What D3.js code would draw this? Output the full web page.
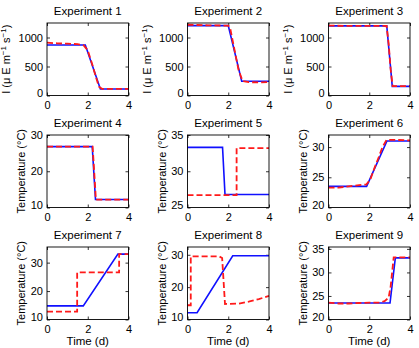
<!DOCTYPE html>
<html><head><meta charset="utf-8">
<script src="https://cdn.jsdelivr.net/npm/d3@7"></script>
<style>
html,body{margin:0;padding:0;background:#fff;}
svg{display:block;font-family:"Liberation Sans",Arial,Helvetica,sans-serif;}
</style></head>
<body>
<svg id="chart" width="419" height="348"></svg>
<script>
// ---- data ----
const titles = ["Experiment 1","Experiment 2","Experiment 3","Experiment 4","Experiment 5","Experiment 6","Experiment 7","Experiment 8","Experiment 9"];
const xTicks = [0, 2, 4];
const yDomains = [[0,1250],[0,1250],[0,1250],[10,30],[25,35],[20,32],[10,35.5],[10,32.4],[20,35.4]];
const yTicks = [[0,500,1000],[0,500,1000],[0,500,1000],[10,20,30],[25,30,35],[20,25,30],[10,20,30],[10,20,30],[20,25,30,35]];
const yLabelLight = "I (μ E m";
const yLabelTemp = "Temperature (°C)";
const xLabel = "Time (d)";

// blue = model (solid), red = data (dashed); [time, value]
const exp1Blue = [[0,870],[1.88,870],[2.62,112],[4,112]];
const exp1Red  = [[0,910],[0.5,900],[1,893],[1.5,885],[1.8,865],[2.0,780],[2.2,560],[2.4,320],[2.55,150],[2.7,115],[4,115]];
const exp2Blue = [[0,1205],[2.0,1205],[2.66,245],[4,245]];
const exp2Red  = [[0,1220],[1,1210],[2.0,1205],[2.1,1150],[2.3,800],[2.5,450],[2.7,250],[3,230],[3.5,225],[4,232]];
const exp3Blue = [[0,1200],[2.86,1200],[3.13,158],[4,158]];
const exp3Red  = [[0,1205],[1,1200],[2.85,1200],[2.95,900],[3.05,450],[3.15,160],[4,160]];
const exp4Blue = [[0,26.8],[2.22,26.8],[2.38,12.2],[4,12.2]];
const exp4Red  = [[0,26.8],[2.24,26.8],[2.4,12.2],[4,12.2]];
const exp5Blue = [[0,33.3],[1.72,33.3],[1.84,26.8],[4,26.8]];
const exp5Red  = [[0,26.7],[2.41,26.7],[2.41,33.2],[4,33.2]];
const exp6Blue = [[0,23.5],[1.87,23.5],[2.87,31.0],[4,31.0]];
const exp6Red  = [[0,23.3],[0.5,23.3],[1,23.5],[1.5,23.7],[1.85,23.8],[2.05,24.6],[2.25,26.5],[2.45,28.2],[2.65,30.0],[2.85,31.2],[3.2,31.2],[4,31.1]];
const exp7Blue = [[0,14.8],[1.78,14.8],[3.48,33.0],[4,33.0]];
const exp7Red  = [[0,12.8],[1.48,12.8],[1.48,26.6],[3.54,26.6],[3.54,33.0],[4,33.0]];
const exp8Blue = [[0,12.1],[0.47,12.1],[2.22,29.7],[4,29.7]];
const exp8Red  = [[0,14.4],[0.16,14.4],[0.16,29.5],[1.55,29.5],[1.7,29.0],[1.84,14.8],[2.5,14.9],[3,15.5],[3.5,16.3],[4,17.3]];
const exp9Blue = [[0,23.5],[3.02,23.5],[3.28,33.1],[4,33.1]];
const exp9Red  = [[0,23.6],[0.5,23.4],[1,23.4],[1.5,23.5],[2,23.6],[2.5,23.6],[2.75,23.9],[2.95,24.6],[3.05,27],[3.2,33.2],[4,33.2]];

const blueSeries = [exp1Blue,exp2Blue,exp3Blue,exp4Blue,exp5Blue,exp6Blue,exp7Blue,exp8Blue,exp9Blue];
const redSeries  = [exp1Red,exp2Red,exp3Red,exp4Red,exp5Red,exp6Red,exp7Red,exp8Red,exp9Red];

// ---- layout ----
const colLeft = [47, 187.5, 328.5];
const rowTop = [23, 135, 247];
const pw = 81.5, ph = 72.5;
const svg = d3.select("#chart");
const fs = 11;
const fmt = d3.format("d");

titles.forEach((t, i) => {
  const r = Math.floor(i / 3), c = i % 3;
  const g = svg.append("g").attr("transform", `translate(${colLeft[c]},${rowTop[r]})`);
  const x = d3.scaleLinear().domain([0, 4]).range([0, pw]);
  const y = d3.scaleLinear().domain(yDomains[i]).range([ph, 0]);

  // axes (MATLAB style: inward ticks, box)
  const xa = d3.axisBottom(x).tickValues(xTicks).tickFormat(fmt).tickSizeInner(-3).tickSizeOuter(0).tickPadding(5);
  const ya = d3.axisLeft(y).tickValues(yTicks[i]).tickFormat(fmt).tickSizeInner(-3).tickSizeOuter(0).tickPadding(4);
  const gx = g.append("g").attr("transform", `translate(0,${ph})`).call(xa);
  const gy = g.append("g").call(ya);
  const gxt = g.append("g").call(d3.axisTop(x).tickValues(xTicks).tickSizeInner(-3).tickSizeOuter(0).tickFormat(""));
  const gyr = g.append("g").attr("transform", `translate(${pw},0)`).call(d3.axisRight(y).tickValues(yTicks[i]).tickSizeInner(-3).tickSizeOuter(0).tickFormat(""));
  [gx, gy, gxt, gyr].forEach(a => {
    a.select(".domain").remove();
    a.selectAll("line").attr("stroke", "#000").attr("stroke-width", 0.8);
    a.selectAll("text").attr("font-size", fs).attr("fill", "#000").attr("font-family", "Liberation Sans, Arial, sans-serif");
  });
  gx.selectAll(".tick text").attr("dy", "0.78em");
  // lift the bottom y tick label slightly so it sits at the corner like the reference
  gy.selectAll(".tick text").filter(d => d === yDomains[i][0]).attr("dy", "0.1em");

  // lines
  const line = d3.line().x(d => x(d[0])).y(d => y(d[1]));
  g.append("path").datum(blueSeries[i]).attr("d", line)
    .attr("fill", "none").attr("stroke", "#1010ff").attr("stroke-width", 1.6);
  g.append("path").datum(redSeries[i]).attr("d", line)
    .attr("fill", "none").attr("stroke", "#ff1a1a").attr("stroke-width", 1.8)
    .attr("stroke-dasharray", "6,3");

  // box
  g.append("rect").attr("x", 0).attr("y", 0).attr("width", pw).attr("height", ph)
    .attr("fill", "none").attr("stroke", "#000").attr("stroke-width", 0.9);

  // title
  g.append("text").attr("x", pw / 2).attr("y", -8).attr("text-anchor", "middle")
    .attr("font-size", 11.5).text(t);

  // y label
  if (r === 0) {
    const yl = g.append("text").attr("transform", `translate(-37,${ph / 2}) rotate(-90)`)
      .attr("text-anchor", "middle").attr("font-size", fs);
    yl.append("tspan").text(yLabelLight);
    yl.append("tspan").attr("font-size", 8).attr("dy", -4).text("−1");
    yl.append("tspan").attr("dy", 4).text(" s");
    yl.append("tspan").attr("font-size", 8).attr("dy", -4).text("−1");
    yl.append("tspan").attr("dy", 4).text(")");
  } else {
    g.append("text").attr("transform", `translate(-22,${ph / 2}) rotate(-90)`)
      .attr("text-anchor", "middle").attr("font-size", fs).text(yLabelTemp);
  }
  if (r === 2) {
    g.append("text").attr("x", pw / 2).attr("y", ph + 25).attr("text-anchor", "middle")
      .attr("font-size", 11.5).text(xLabel);
  }
});
</script>
</body></html>
